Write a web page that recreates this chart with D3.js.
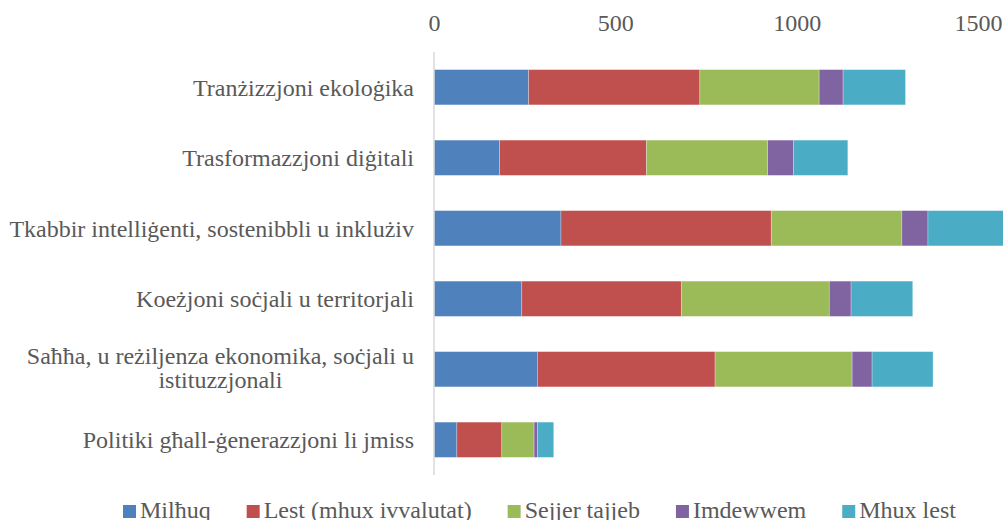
<!DOCTYPE html>
<html>
<head>
<meta charset="utf-8">
<script src="https://cdn.jsdelivr.net/npm/d3@7"></script>
<style>
  body { margin: 0; background: #fff; }
  svg text { font-family: "Liberation Serif", "Times New Roman", serif; fill: #595959; }
</style>
</head>
<body>
<div id="chart"></div>
<script>
const categories = [
  'Tranżizzjoni ekoloġika',
  'Trasformazzjoni diġitali',
  'Tkabbir intelliġenti, sostenibbli u inklużiv',
  'Koeżjoni soċjali u territorjali',
  'Saħħa, u reżiljenza ekonomika, soċjali u|istituzzjonali',
  'Politiki għall-ġenerazzjoni li jmiss'
]

const seriesNames = ['Milħuq', 'Lest (mhux ivvalutat)', 'Sejjer tajjeb', 'Imdewwem', 'Mhux lest']
const colors = ['#4F81BD', '#C0504D', '#9BBB59', '#8064A2', '#4BACC6']

const milhuq = [261, 181, 350, 242, 285, 63]
const lest = [472, 405, 580, 440, 490, 124]
const sejjer = [329, 334, 360, 408, 378, 89]
const imdewwem = [66, 71, 72, 60, 55, 9]
const mhuxLest = [172, 150, 210, 170, 168, 45]

const xTicks = [0, 500, 1000, 1500]

const width = 1003
const height = 520
const margin = { top: 52, right: 25, bottom: 45, left: 434 }
const fontSize = 24

const svg = d3.select('#chart')
  .append('svg')
  .attr('width', width)
  .attr('height', height)
  .attr('font-family', '"Liberation Serif", serif')

const g = svg.append('g')
  .attr('transform', 'translate(' + margin.left + ',' + margin.top + ')')

const plotW = width - margin.left - margin.right
const plotH = height - margin.top - margin.bottom

const x = d3.scaleLinear().domain([0, 1500]).range([0, plotW])
const y = d3.scaleBand().domain(categories).range([0, plotH]).paddingInner(0.5).paddingOuter(0.25)

// build rows for stacking
const keys = ['milhuq', 'lest', 'sejjer', 'imdewwem', 'mhuxLest']
const rows = categories.map((c, i) => ({
  cat: c,
  milhuq: milhuq[i],
  lest: lest[i],
  sejjer: sejjer[i],
  imdewwem: imdewwem[i],
  mhuxLest: mhuxLest[i]
}))
const stacked = d3.stack().keys(keys)(rows)

// top axis, labels only
const xAxis = d3.axisTop(x)
  .tickValues(xTicks)
  .tickSize(0)
  .tickPadding(21)
  .tickFormat(d3.format('d'))

g.append('g')
  .attr('class', 'axis x-axis')
  .call(xAxis)
  .call(s => s.select('.domain').remove())
  .selectAll('text')
  .attr('font-size', fontSize)
  .attr('font-family', '"Liberation Serif", serif')
  .attr('fill', '#595959')

g.selectAll('.layer')
  .data(stacked)
  .enter()
  .append('g')
  .attr('class', 'layer')
  .attr('fill', (d, i) => colors[i])
  .selectAll('rect')
  .data(d => d)
  .enter()
  .append('rect')
  .attr('x', d => x(d[0]))
  .attr('y', d => y(d.data.cat))
  .attr('width', d => x(d[1]) - x(d[0]))
  .attr('height', y.bandwidth())
  .attr('stroke', '#ffffff')
  .attr('stroke-opacity', 0.35)
  .attr('stroke-width', 0.75)

// vertical category axis line
g.append('line')
  .attr('x1', x(0)).attr('x2', x(0))
  .attr('y1', 0).attr('y2', plotH)
  .attr('stroke', '#d9d9d9')
  .attr('stroke-width', 1.5)

// category labels
const labelRight = -20
categories.forEach(c => {
  const lines = c.split('|')
  const cy = y(c) + y.bandwidth() / 2
  const t = g.append('text')
    .attr('font-size', fontSize)
    .attr('y', cy)
  if (lines.length === 1) {
    t.attr('x', labelRight).attr('text-anchor', 'end').attr('dy', '0.35em').text(c)
  } else {
    const lh = 24
    lines.forEach((l, j) => {
      t.append('tspan')
        .attr('y', cy + (j - (lines.length - 1) / 2) * lh)
        .attr('dy', '0.3em')
        .attr('text-anchor', 'middle')
        .text(l)
    })
    // center lines under the longest one, right aligned
    const widths = []
    t.selectAll('tspan').each(function () { widths.push(this.getComputedTextLength()) })
    const maxW = d3.max(widths)
    t.selectAll('tspan').attr('x', labelRight - maxW / 2)
  }
})

// legend
const legend = svg.append('g').attr('transform', 'translate(123,518)')
let lx = 0
seriesNames.forEach((name, i) => {
  const item = legend.append('g').attr('transform', 'translate(' + lx + ',0)')
  item.append('rect')
    .attr('x', 0).attr('y', -13)
    .attr('width', 13).attr('height', 13)
    .attr('fill', colors[i])
  const t = item.append('text')
    .attr('x', 17)
    .attr('font-size', fontSize)
    .text(name)
  lx += 17 + t.node().getComputedTextLength() + 36
})
</script>
</body>
</html>
